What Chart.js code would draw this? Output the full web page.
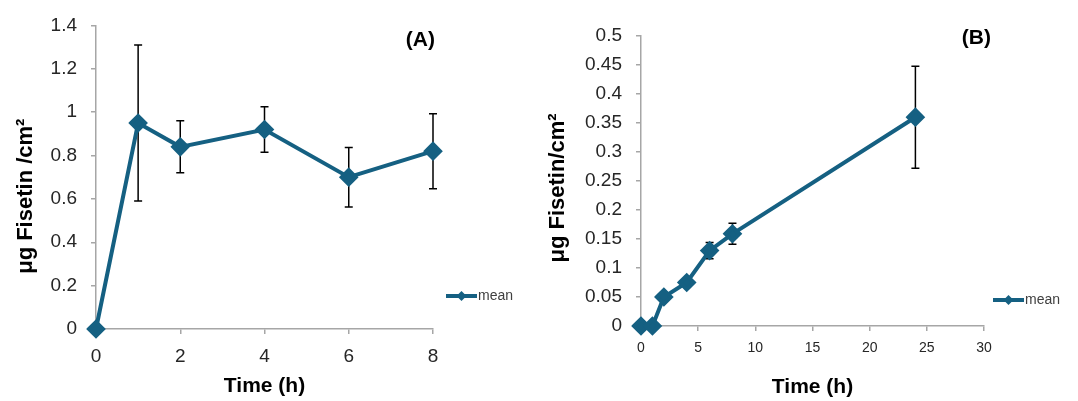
<!DOCTYPE html>
<html>
<head>
<meta charset="utf-8">
<script src="https://cdn.jsdelivr.net/npm/chart.js@4.4.1/dist/chart.umd.min.js"></script>
<style>
  body { margin: 0; background: #fff; }
  #wrap { position: relative; width: 1078px; height: 401px; }
  #chartA { position: absolute; left: 0; top: 0; }
  #chartB { position: absolute; left: 540px; top: 0; }
</style>
</head>
<body>
<div id="wrap">
  <canvas id="chartA" width="540" height="401"></canvas>
  <canvas id="chartB" width="538" height="401"></canvas>
</div>
<script>
// panel A data
const timeA = [0, 1, 2, 4, 6, 8];
const meanA = [0, 0.95, 0.84, 0.92, 0.70, 0.82];
const errA = [0, 0.36, 0.12, 0.105, 0.137, 0.173];
const yTicksA = [0, 0.2, 0.4, 0.6, 0.8, 1, 1.2, 1.4];
const xTicksA = [0, 2, 4, 6, 8];

// panel B data
const timeB = [0, 1, 2, 4, 6, 8, 24];
const meanB = [0, 0, 0.05, 0.075, 0.13, 0.159, 0.36];
const errB = [0, 0, 0.005, 0.004, 0.014, 0.018, 0.088];
const yTicksB = [0, 0.05, 0.1, 0.15, 0.2, 0.25, 0.3, 0.35, 0.4, 0.45, 0.5];
const xTicksB = [0, 5, 10, 15, 20, 25, 30];

const lineColor = '#156082';
const axisColor = '#a6a6a6';
const textColor = '#262626';
const fam = "'Liberation Sans', Arial, sans-serif";

// draws black error bars under the markers
const errorBars = {
  id: 'errorBars',
  beforeDatasetsDraw(chart, args, opts) {
    const ctx = chart.ctx;
    const x = chart.scales.x, y = chart.scales.y;
    const ds = chart.data.datasets[0];
    ctx.save();
    ctx.strokeStyle = '#000';
    ctx.lineWidth = 1.5;
    ds.data.forEach((p, i) => {
      const e = opts.errors[i];
      if (!e) return;
      const px = x.getPixelForValue(p.x);
      const top = y.getPixelForValue(p.y + e);
      const bot = y.getPixelForValue(p.y - e);
      ctx.beginPath();
      ctx.moveTo(px, top); ctx.lineTo(px, bot);
      ctx.moveTo(px - 4, top); ctx.lineTo(px + 4, top);
      ctx.moveTo(px - 4, bot); ctx.lineTo(px + 4, bot);
      ctx.stroke();
    });
    ctx.restore();
  }
};

// panel letter, y axis title and the small "mean" legend
const extras = {
  id: 'extras',
  afterDraw(chart, args, opts) {
    const ctx = chart.ctx;
    const a = chart.chartArea;
    ctx.save();
    ctx.fillStyle = '#000';
    ctx.font = 'bold 21px ' + fam;
    ctx.textAlign = 'right';
    ctx.textBaseline = 'middle';
    ctx.fillText(opts.panel, a.right + opts.panelDx, opts.panelY);

    // y title, placed a little below the plot centre as in the original
    ctx.save();
    ctx.translate(opts.ytX, (a.top + a.bottom) / 2 + opts.ytDy);
    ctx.rotate(-Math.PI / 2);
    ctx.textAlign = 'center';
    ctx.font = 'bold 22px ' + fam;
    ctx.fillText(opts.ytitle, 0, 0);
    ctx.restore();

    const ly = a.bottom + opts.legDy;
    const lx = a.right + opts.legDx;
    ctx.strokeStyle = lineColor;
    ctx.lineWidth = 4;
    ctx.beginPath();
    ctx.moveTo(lx, ly); ctx.lineTo(lx + opts.legLen, ly);
    ctx.stroke();
    const mx = lx + opts.legLen / 2;
    ctx.fillStyle = lineColor;
    ctx.beginPath();
    ctx.moveTo(mx, ly - 5); ctx.lineTo(mx + 5, ly); ctx.lineTo(mx, ly + 5); ctx.lineTo(mx - 5, ly);
    ctx.closePath(); ctx.fill();
    ctx.fillStyle = '#404040';
    ctx.font = '14px ' + fam;
    ctx.textAlign = 'left';
    ctx.fillText('mean', lx + opts.legLen + 1, ly);
    ctx.restore();
  }
};

function makeChart(id, times, means, errs, yTicks, xTicks, cfg) {
  return new Chart(document.getElementById(id), {
    type: 'line',
    data: {
      datasets: [{
        label: 'mean',
        data: times.map((t, i) => ({x: t, y: means[i]})),
        borderColor: lineColor,
        backgroundColor: lineColor,
        borderWidth: 4,
        pointStyle: 'rectRot',
        pointRadius: 7,
        pointHoverRadius: 7,
        tension: 0,
        clip: false
      }]
    },
    options: {
      responsive: false,
      animation: false,
      layout: { padding: { top: cfg.top, right: cfg.right, left: 0, bottom: 0 } },
      plugins: {
        legend: { display: false },
        tooltip: { enabled: false },
        errorBars: { errors: errs },
        extras: cfg.extras
      },
      scales: {
        x: {
          type: 'linear',
          min: xTicks[0],
          max: xTicks[xTicks.length - 1],
          afterBuildTicks: s => { s.ticks = xTicks.map(v => ({value: v})); },
          afterFit: s => { s.height = cfg.xh; },
          ticks: {
            color: textColor, padding: cfg.xpad,
            font: { family: fam, size: cfg.xfont },
            callback: v => String(v), maxRotation: 0
          },
          grid: { drawOnChartArea: false, drawTicks: true, tickLength: 5, color: axisColor, lineWidth: 1.5 },
          border: { color: axisColor, width: 1.5 },
          title: {
            display: true, text: 'Time (h)', color: '#000',
            font: { family: fam, size: 21, weight: 'bold' },
            padding: { top: 0, bottom: cfg.xtpad }
          }
        },
        y: {
          min: yTicks[0],
          max: yTicks[yTicks.length - 1],
          afterBuildTicks: s => { s.ticks = yTicks.map(v => ({value: v})); },
          afterFit: s => { s.width = cfg.yw; },
          ticks: {
            color: textColor, padding: cfg.ypad,
            font: { family: fam, size: 19 },
            callback: v => String(v)
          },
          grid: { drawOnChartArea: false, drawTicks: true, tickLength: 5, color: axisColor, lineWidth: 1.5 },
          border: { color: axisColor, width: 1.5 }
        }
      }
    },
    plugins: [errorBars, extras]
  });
}

makeChart('chartA', timeA, meanA, errA, yTicksA, xTicksA, {
  top: 25, right: 107, xh: 72, yw: 96, xpad: 11, ypad: 14, xfont: 19, xtpad: 2,
  extras: { panel: '(A)', panelDx: 2, panelY: 40, legDx: 13, legDy: -33, legLen: 31,
            ytitle: 'μg Fisetin /cm²', ytX: 26, ytDy: 19 }
});

makeChart('chartB', timeB, meanB, errB, yTicksB, xTicksB, {
  top: 36, right: 94, xh: 75, yw: 101, xpad: 9, ypad: 14, xfont: 14, xtpad: 1,
  extras: { panel: '(B)', panelDx: 7, panelY: 38, legDx: 9, legDy: -26, legLen: 31,
            ytitle: 'μg Fisetin/cm²', ytX: 18, ytDy: 7 }
});
</script>
</body>
</html>
